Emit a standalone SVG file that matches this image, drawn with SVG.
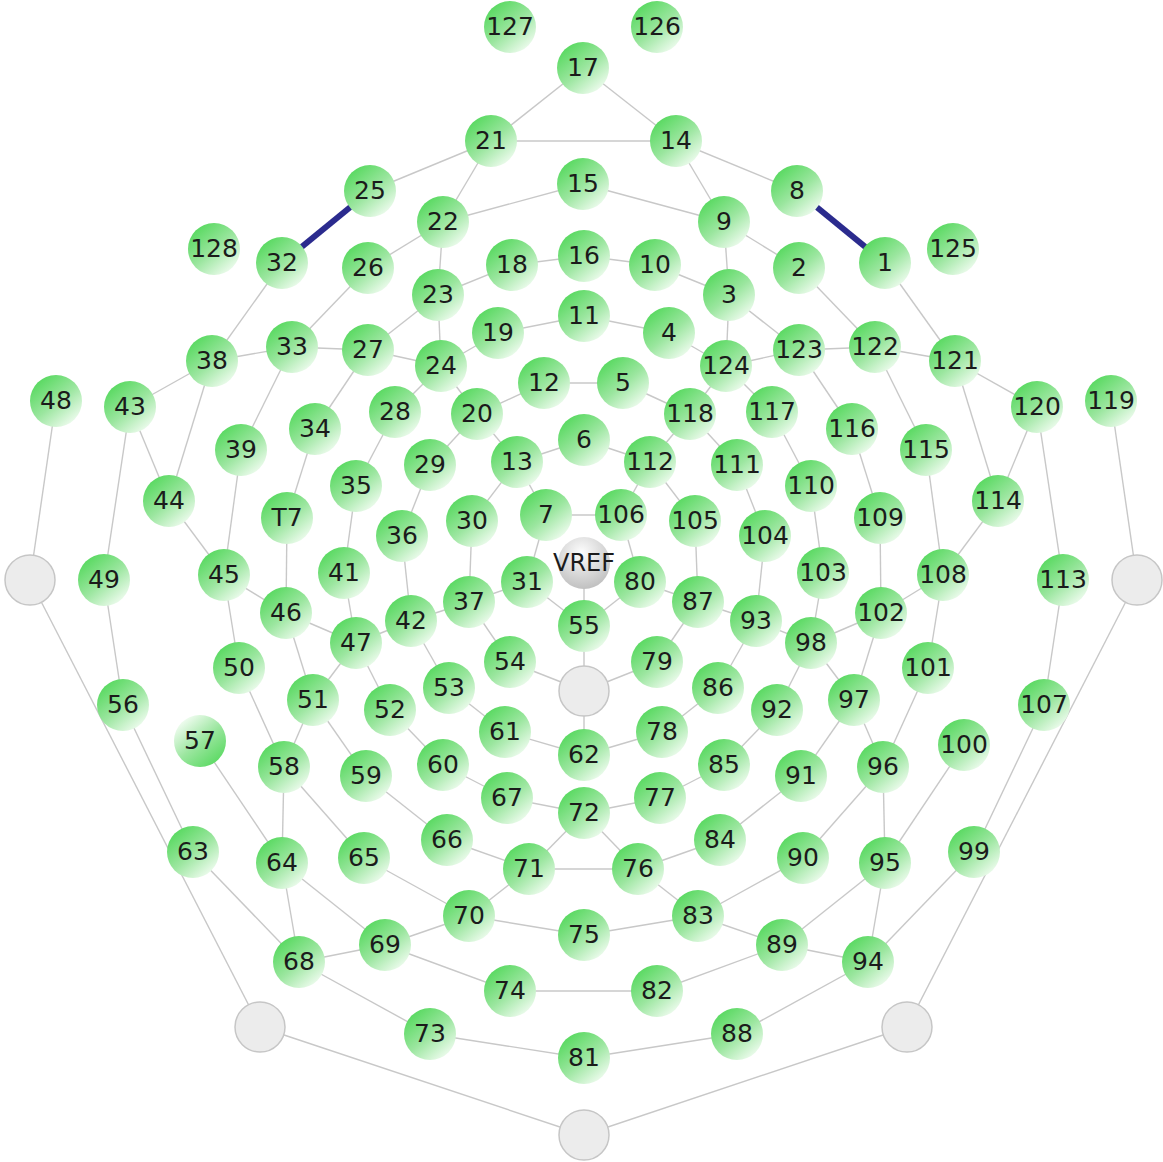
<svg xmlns="http://www.w3.org/2000/svg" width="1163" height="1162" viewBox="0 0 1163 1162">
<defs>
<linearGradient id="gg" x1="0.15" y1="0.1" x2="0.85" y2="0.95">
<stop offset="0" stop-color="#58d960"/>
<stop offset="0.5" stop-color="#9be69f"/>
<stop offset="1" stop-color="#f3fdf3"/>
</linearGradient>
<linearGradient id="gr" x1="0.15" y1="0.1" x2="0.85" y2="0.95">
<stop offset="0" stop-color="#f3fdf3"/>
<stop offset="0.5" stop-color="#9be69f"/>
<stop offset="1" stop-color="#58d960"/>
</linearGradient>
<radialGradient id="gv" cx="0.45" cy="0.3" r="0.75">
<stop offset="0" stop-color="#fdfdfd"/>
<stop offset="1" stop-color="#bcbcbc"/>
</radialGradient>
<style>
.edges line{stroke:#c8c8c8;stroke-width:1.4}
.hl line{stroke:#2b2b8e;stroke-width:6}
.node circle{fill:url(#gg)}
.node.rev circle{fill:url(#gr)}
.node.vref circle{fill:url(#gv)}
.gray circle{fill:#ececec;stroke:#c6c6c6;stroke-width:1.5}
text{font-family:"DejaVu Sans","Verdana",sans-serif;font-size:25px;fill:#1b1b1b;text-anchor:middle}
.vref text{font-size:24px}
</style>
</defs>
<rect width="1163" height="1162" fill="#ffffff"/>
<g id="connectors">
<g class="edges">
<line x1="583" y1="68" x2="491" y2="141"/>
<line x1="583" y1="68" x2="676" y2="141"/>
<line x1="491" y1="141" x2="676" y2="141"/>
<line x1="491" y1="141" x2="370" y2="191"/>
<line x1="491" y1="141" x2="443" y2="222"/>
<line x1="676" y1="141" x2="797" y2="191"/>
<line x1="676" y1="141" x2="724" y2="222"/>
<line x1="443" y1="222" x2="583" y2="184"/>
<line x1="583" y1="184" x2="724" y2="222"/>
<line x1="443" y1="222" x2="368" y2="268"/>
<line x1="724" y1="222" x2="799" y2="268"/>
<line x1="443" y1="222" x2="438" y2="295"/>
<line x1="724" y1="222" x2="729" y2="295"/>
<line x1="512" y1="265" x2="584" y2="256"/>
<line x1="584" y1="256" x2="655" y2="265"/>
<line x1="438" y1="295" x2="512" y2="265"/>
<line x1="729" y1="295" x2="655" y2="265"/>
<line x1="438" y1="295" x2="368" y2="350"/>
<line x1="729" y1="295" x2="799" y2="350"/>
<line x1="438" y1="295" x2="441" y2="366"/>
<line x1="729" y1="295" x2="726" y2="366"/>
<line x1="498" y1="333" x2="584" y2="316"/>
<line x1="584" y1="316" x2="669" y2="333"/>
<line x1="441" y1="366" x2="498" y2="333"/>
<line x1="726" y1="366" x2="669" y2="333"/>
<line x1="368" y1="350" x2="441" y2="366"/>
<line x1="799" y1="350" x2="726" y2="366"/>
<line x1="544" y1="383" x2="623" y2="383"/>
<line x1="544" y1="383" x2="477" y2="414"/>
<line x1="623" y1="383" x2="690" y2="414"/>
<line x1="441" y1="366" x2="477" y2="414"/>
<line x1="726" y1="366" x2="690" y2="414"/>
<line x1="441" y1="366" x2="395" y2="412"/>
<line x1="726" y1="366" x2="772" y2="412"/>
<line x1="368" y1="268" x2="292" y2="347"/>
<line x1="799" y1="268" x2="875" y2="347"/>
<line x1="282" y1="263" x2="212" y2="361"/>
<line x1="885" y1="263" x2="955" y2="361"/>
<line x1="212" y1="361" x2="292" y2="347"/>
<line x1="955" y1="361" x2="875" y2="347"/>
<line x1="292" y1="347" x2="368" y2="350"/>
<line x1="875" y1="347" x2="799" y2="350"/>
<line x1="212" y1="361" x2="130" y2="407"/>
<line x1="955" y1="361" x2="1037" y2="407"/>
<line x1="292" y1="347" x2="241" y2="450"/>
<line x1="875" y1="347" x2="926" y2="450"/>
<line x1="368" y1="350" x2="315" y2="429"/>
<line x1="799" y1="350" x2="852" y2="429"/>
<line x1="212" y1="361" x2="169" y2="501"/>
<line x1="955" y1="361" x2="998" y2="501"/>
<line x1="130" y1="407" x2="169" y2="501"/>
<line x1="1037" y1="407" x2="998" y2="501"/>
<line x1="130" y1="407" x2="104" y2="580"/>
<line x1="1037" y1="407" x2="1063" y2="580"/>
<line x1="56" y1="401" x2="30" y2="580"/>
<line x1="1111" y1="401" x2="1137" y2="580"/>
<line x1="241" y1="450" x2="224" y2="575"/>
<line x1="926" y1="450" x2="943" y2="575"/>
<line x1="169" y1="501" x2="224" y2="575"/>
<line x1="998" y1="501" x2="943" y2="575"/>
<line x1="315" y1="429" x2="287" y2="518"/>
<line x1="852" y1="429" x2="880" y2="518"/>
<line x1="395" y1="412" x2="356" y2="486"/>
<line x1="772" y1="412" x2="811" y2="486"/>
<line x1="356" y1="486" x2="344" y2="573"/>
<line x1="811" y1="486" x2="823" y2="573"/>
<line x1="287" y1="518" x2="286" y2="613"/>
<line x1="880" y1="518" x2="881" y2="613"/>
<line x1="224" y1="575" x2="286" y2="613"/>
<line x1="943" y1="575" x2="881" y2="613"/>
<line x1="286" y1="613" x2="356" y2="643"/>
<line x1="881" y1="613" x2="811" y2="643"/>
<line x1="344" y1="573" x2="356" y2="643"/>
<line x1="823" y1="573" x2="811" y2="643"/>
<line x1="356" y1="643" x2="411" y2="621"/>
<line x1="811" y1="643" x2="756" y2="621"/>
<line x1="224" y1="575" x2="239" y2="668"/>
<line x1="943" y1="575" x2="928" y2="668"/>
<line x1="286" y1="613" x2="313" y2="700"/>
<line x1="881" y1="613" x2="854" y2="700"/>
<line x1="356" y1="643" x2="313" y2="700"/>
<line x1="811" y1="643" x2="854" y2="700"/>
<line x1="356" y1="643" x2="390" y2="710"/>
<line x1="811" y1="643" x2="777" y2="710"/>
<line x1="104" y1="580" x2="123" y2="705"/>
<line x1="1063" y1="580" x2="1044" y2="705"/>
<line x1="30" y1="580" x2="260" y2="1027"/>
<line x1="1137" y1="580" x2="907" y2="1027"/>
<line x1="239" y1="668" x2="284" y2="767"/>
<line x1="928" y1="668" x2="883" y2="767"/>
<line x1="313" y1="700" x2="284" y2="767"/>
<line x1="854" y1="700" x2="883" y2="767"/>
<line x1="313" y1="700" x2="366" y2="776"/>
<line x1="854" y1="700" x2="801" y2="776"/>
<line x1="390" y1="710" x2="443" y2="765"/>
<line x1="777" y1="710" x2="724" y2="765"/>
<line x1="449" y1="688" x2="505" y2="732"/>
<line x1="718" y1="688" x2="662" y2="732"/>
<line x1="411" y1="621" x2="449" y2="688"/>
<line x1="756" y1="621" x2="718" y2="688"/>
<line x1="284" y1="767" x2="282" y2="863"/>
<line x1="883" y1="767" x2="885" y2="863"/>
<line x1="284" y1="767" x2="364" y2="858"/>
<line x1="883" y1="767" x2="803" y2="858"/>
<line x1="366" y1="776" x2="447" y2="840"/>
<line x1="801" y1="776" x2="720" y2="840"/>
<line x1="443" y1="765" x2="507" y2="798"/>
<line x1="724" y1="765" x2="660" y2="798"/>
<line x1="505" y1="732" x2="584" y2="755"/>
<line x1="662" y1="732" x2="584" y2="755"/>
<line x1="507" y1="798" x2="584" y2="813"/>
<line x1="660" y1="798" x2="584" y2="813"/>
<line x1="200" y1="741" x2="282" y2="863"/>
<line x1="964" y1="745" x2="885" y2="863"/>
<line x1="123" y1="705" x2="193" y2="852"/>
<line x1="1044" y1="705" x2="974" y2="852"/>
<line x1="193" y1="852" x2="299" y2="962"/>
<line x1="974" y1="852" x2="868" y2="962"/>
<line x1="282" y1="863" x2="299" y2="962"/>
<line x1="885" y1="863" x2="868" y2="962"/>
<line x1="282" y1="863" x2="385" y2="945"/>
<line x1="885" y1="863" x2="782" y2="945"/>
<line x1="299" y1="962" x2="385" y2="945"/>
<line x1="868" y1="962" x2="782" y2="945"/>
<line x1="299" y1="962" x2="430" y2="1034"/>
<line x1="868" y1="962" x2="737" y2="1034"/>
<line x1="364" y1="858" x2="469" y2="916"/>
<line x1="803" y1="858" x2="698" y2="916"/>
<line x1="447" y1="840" x2="529" y2="869"/>
<line x1="720" y1="840" x2="638" y2="869"/>
<line x1="584" y1="813" x2="529" y2="869"/>
<line x1="584" y1="813" x2="638" y2="869"/>
<line x1="529" y1="869" x2="638" y2="869"/>
<line x1="529" y1="869" x2="469" y2="916"/>
<line x1="638" y1="869" x2="698" y2="916"/>
<line x1="385" y1="945" x2="469" y2="916"/>
<line x1="782" y1="945" x2="698" y2="916"/>
<line x1="469" y1="916" x2="584" y2="935"/>
<line x1="698" y1="916" x2="584" y2="935"/>
<line x1="385" y1="945" x2="510" y2="991"/>
<line x1="782" y1="945" x2="657" y2="991"/>
<line x1="510" y1="991" x2="657" y2="991"/>
<line x1="430" y1="1034" x2="584" y2="1058"/>
<line x1="737" y1="1034" x2="584" y2="1058"/>
<line x1="260" y1="1027" x2="584" y2="1135"/>
<line x1="907" y1="1027" x2="584" y2="1135"/>
<line x1="510" y1="662" x2="584" y2="691"/>
<line x1="657" y1="662" x2="584" y2="691"/>
<line x1="584" y1="626" x2="584" y2="691"/>
<line x1="584" y1="691" x2="584" y2="755"/>
<line x1="469" y1="602" x2="510" y2="662"/>
<line x1="698" y1="602" x2="657" y2="662"/>
<line x1="527" y1="582" x2="584" y2="626"/>
<line x1="640" y1="582" x2="584" y2="626"/>
<line x1="584" y1="563" x2="584" y2="626"/>
<line x1="546" y1="515" x2="527" y2="582"/>
<line x1="621" y1="515" x2="640" y2="582"/>
<line x1="546" y1="515" x2="621" y2="515"/>
<line x1="517" y1="462" x2="546" y2="515"/>
<line x1="650" y1="462" x2="621" y2="515"/>
<line x1="517" y1="462" x2="472" y2="521"/>
<line x1="650" y1="462" x2="695" y2="521"/>
<line x1="472" y1="521" x2="469" y2="602"/>
<line x1="695" y1="521" x2="698" y2="602"/>
<line x1="469" y1="602" x2="527" y2="582"/>
<line x1="698" y1="602" x2="640" y2="582"/>
<line x1="411" y1="621" x2="469" y2="602"/>
<line x1="756" y1="621" x2="698" y2="602"/>
<line x1="402" y1="536" x2="411" y2="621"/>
<line x1="765" y1="536" x2="756" y2="621"/>
<line x1="430" y1="465" x2="402" y2="536"/>
<line x1="737" y1="465" x2="765" y2="536"/>
<line x1="477" y1="414" x2="430" y2="465"/>
<line x1="690" y1="414" x2="737" y2="465"/>
<line x1="477" y1="414" x2="517" y2="462"/>
<line x1="690" y1="414" x2="650" y2="462"/>
<line x1="517" y1="462" x2="584" y2="440"/>
<line x1="584" y1="440" x2="650" y2="462"/>
</g>
<g class="hl">
<line x1="370" y1="191" x2="282" y2="263"/>
<line x1="797" y1="191" x2="885" y2="263"/>
</g>
</g>
<g id="nodes">
<g id="n-127" class="node"><circle cx="510" cy="27" r="26"/><text x="510" y="35">127</text></g>
<g id="n-126" class="node"><circle cx="657" cy="27" r="26"/><text x="657" y="35">126</text></g>
<g id="n-17" class="node"><circle cx="583" cy="68" r="26"/><text x="583" y="76">17</text></g>
<g id="n-21" class="node"><circle cx="491" cy="141" r="26"/><text x="491" y="149">21</text></g>
<g id="n-14" class="node"><circle cx="676" cy="141" r="26"/><text x="676" y="149">14</text></g>
<g id="n-25" class="node"><circle cx="370" cy="191" r="26"/><text x="370" y="199">25</text></g>
<g id="n-8" class="node"><circle cx="797" cy="191" r="26"/><text x="797" y="199">8</text></g>
<g id="n-15" class="node"><circle cx="583" cy="184" r="26"/><text x="583" y="192">15</text></g>
<g id="n-22" class="node"><circle cx="443" cy="222" r="26"/><text x="443" y="230">22</text></g>
<g id="n-9" class="node"><circle cx="724" cy="222" r="26"/><text x="724" y="230">9</text></g>
<g id="n-128" class="node"><circle cx="214" cy="249" r="26"/><text x="214" y="257">128</text></g>
<g id="n-125" class="node"><circle cx="953" cy="249" r="26"/><text x="953" y="257">125</text></g>
<g id="n-32" class="node"><circle cx="282" cy="263" r="26"/><text x="282" y="271">32</text></g>
<g id="n-1" class="node"><circle cx="885" cy="263" r="26"/><text x="885" y="271">1</text></g>
<g id="n-26" class="node"><circle cx="368" cy="268" r="26"/><text x="368" y="276">26</text></g>
<g id="n-2" class="node"><circle cx="799" cy="268" r="26"/><text x="799" y="276">2</text></g>
<g id="n-18" class="node"><circle cx="512" cy="265" r="26"/><text x="512" y="273">18</text></g>
<g id="n-10" class="node"><circle cx="655" cy="265" r="26"/><text x="655" y="273">10</text></g>
<g id="n-16" class="node"><circle cx="584" cy="256" r="26"/><text x="584" y="264">16</text></g>
<g id="n-23" class="node"><circle cx="438" cy="295" r="26"/><text x="438" y="303">23</text></g>
<g id="n-3" class="node"><circle cx="729" cy="295" r="26"/><text x="729" y="303">3</text></g>
<g id="n-11" class="node"><circle cx="584" cy="316" r="26"/><text x="584" y="324">11</text></g>
<g id="n-19" class="node"><circle cx="498" cy="333" r="26"/><text x="498" y="341">19</text></g>
<g id="n-4" class="node"><circle cx="669" cy="333" r="26"/><text x="669" y="341">4</text></g>
<g id="n-33" class="node"><circle cx="292" cy="347" r="26"/><text x="292" y="355">33</text></g>
<g id="n-122" class="node"><circle cx="875" cy="347" r="26"/><text x="875" y="355">122</text></g>
<g id="n-27" class="node"><circle cx="368" cy="350" r="26"/><text x="368" y="358">27</text></g>
<g id="n-123" class="node"><circle cx="799" cy="350" r="26"/><text x="799" y="358">123</text></g>
<g id="n-38" class="node"><circle cx="212" cy="361" r="26"/><text x="212" y="369">38</text></g>
<g id="n-121" class="node"><circle cx="955" cy="361" r="26"/><text x="955" y="369">121</text></g>
<g id="n-24" class="node"><circle cx="441" cy="366" r="26"/><text x="441" y="374">24</text></g>
<g id="n-124" class="node"><circle cx="726" cy="366" r="26"/><text x="726" y="374">124</text></g>
<g id="n-12" class="node"><circle cx="544" cy="383" r="26"/><text x="544" y="391">12</text></g>
<g id="n-5" class="node"><circle cx="623" cy="383" r="26"/><text x="623" y="391">5</text></g>
<g id="n-48" class="node"><circle cx="56" cy="401" r="26"/><text x="56" y="409">48</text></g>
<g id="n-119" class="node"><circle cx="1111" cy="401" r="26"/><text x="1111" y="409">119</text></g>
<g id="n-43" class="node"><circle cx="130" cy="407" r="26"/><text x="130" y="415">43</text></g>
<g id="n-120" class="node"><circle cx="1037" cy="407" r="26"/><text x="1037" y="415">120</text></g>
<g id="n-28" class="node"><circle cx="395" cy="412" r="26"/><text x="395" y="420">28</text></g>
<g id="n-117" class="node"><circle cx="772" cy="412" r="26"/><text x="772" y="420">117</text></g>
<g id="n-20" class="node"><circle cx="477" cy="414" r="26"/><text x="477" y="422">20</text></g>
<g id="n-118" class="node"><circle cx="690" cy="414" r="26"/><text x="690" y="422">118</text></g>
<g id="n-6" class="node"><circle cx="584" cy="440" r="26"/><text x="584" y="448">6</text></g>
<g id="n-34" class="node"><circle cx="315" cy="429" r="26"/><text x="315" y="437">34</text></g>
<g id="n-116" class="node"><circle cx="852" cy="429" r="26"/><text x="852" y="437">116</text></g>
<g id="n-39" class="node"><circle cx="241" cy="450" r="26"/><text x="241" y="458">39</text></g>
<g id="n-115" class="node"><circle cx="926" cy="450" r="26"/><text x="926" y="458">115</text></g>
<g id="n-29" class="node"><circle cx="430" cy="465" r="26"/><text x="430" y="473">29</text></g>
<g id="n-111" class="node"><circle cx="737" cy="465" r="26"/><text x="737" y="473">111</text></g>
<g id="n-13" class="node"><circle cx="517" cy="462" r="26"/><text x="517" y="470">13</text></g>
<g id="n-112" class="node"><circle cx="650" cy="462" r="26"/><text x="650" y="470">112</text></g>
<g id="n-35" class="node"><circle cx="356" cy="486" r="26"/><text x="356" y="494">35</text></g>
<g id="n-110" class="node"><circle cx="811" cy="486" r="26"/><text x="811" y="494">110</text></g>
<g id="n-44" class="node"><circle cx="169" cy="501" r="26"/><text x="169" y="509">44</text></g>
<g id="n-114" class="node"><circle cx="998" cy="501" r="26"/><text x="998" y="509">114</text></g>
<g id="n-T7" class="node"><circle cx="287" cy="518" r="26"/><text x="287" y="526">T7</text></g>
<g id="n-109" class="node"><circle cx="880" cy="518" r="26"/><text x="880" y="526">109</text></g>
<g id="n-30" class="node"><circle cx="472" cy="521" r="26"/><text x="472" y="529">30</text></g>
<g id="n-105" class="node"><circle cx="695" cy="521" r="26"/><text x="695" y="529">105</text></g>
<g id="n-7" class="node"><circle cx="546" cy="515" r="26"/><text x="546" y="523">7</text></g>
<g id="n-106" class="node"><circle cx="621" cy="515" r="26"/><text x="621" y="523">106</text></g>
<g id="n-36" class="node"><circle cx="402" cy="536" r="26"/><text x="402" y="544">36</text></g>
<g id="n-104" class="node"><circle cx="765" cy="536" r="26"/><text x="765" y="544">104</text></g>
<g id="n-45" class="node"><circle cx="224" cy="575" r="26"/><text x="224" y="583">45</text></g>
<g id="n-108" class="node"><circle cx="943" cy="575" r="26"/><text x="943" y="583">108</text></g>
<g id="n-41" class="node"><circle cx="344" cy="573" r="26"/><text x="344" y="581">41</text></g>
<g id="n-103" class="node"><circle cx="823" cy="573" r="26"/><text x="823" y="581">103</text></g>
<g id="n-31" class="node"><circle cx="527" cy="582" r="26"/><text x="527" y="590">31</text></g>
<g id="n-80" class="node"><circle cx="640" cy="582" r="26"/><text x="640" y="590">80</text></g>
<g id="n-VREF" class="node vref"><circle cx="584" cy="563" r="26"/><text x="584" y="571">VREF</text></g>
<g id="n-gL" class="gray"><circle cx="30" cy="580" r="25"/></g>
<g id="n-gR" class="gray"><circle cx="1137" cy="580" r="25"/></g>
<g id="n-49" class="node"><circle cx="104" cy="580" r="26"/><text x="104" y="588">49</text></g>
<g id="n-113" class="node"><circle cx="1063" cy="580" r="26"/><text x="1063" y="588">113</text></g>
<g id="n-37" class="node"><circle cx="469" cy="602" r="26"/><text x="469" y="610">37</text></g>
<g id="n-87" class="node"><circle cx="698" cy="602" r="26"/><text x="698" y="610">87</text></g>
<g id="n-46" class="node"><circle cx="286" cy="613" r="26"/><text x="286" y="621">46</text></g>
<g id="n-102" class="node"><circle cx="881" cy="613" r="26"/><text x="881" y="621">102</text></g>
<g id="n-42" class="node"><circle cx="411" cy="621" r="26"/><text x="411" y="629">42</text></g>
<g id="n-93" class="node"><circle cx="756" cy="621" r="26"/><text x="756" y="629">93</text></g>
<g id="n-55" class="node"><circle cx="584" cy="626" r="26"/><text x="584" y="634">55</text></g>
<g id="n-47" class="node"><circle cx="356" cy="643" r="26"/><text x="356" y="651">47</text></g>
<g id="n-98" class="node"><circle cx="811" cy="643" r="26"/><text x="811" y="651">98</text></g>
<g id="n-54" class="node"><circle cx="510" cy="662" r="26"/><text x="510" y="670">54</text></g>
<g id="n-79" class="node"><circle cx="657" cy="662" r="26"/><text x="657" y="670">79</text></g>
<g id="n-50" class="node"><circle cx="239" cy="668" r="26"/><text x="239" y="676">50</text></g>
<g id="n-101" class="node"><circle cx="928" cy="668" r="26"/><text x="928" y="676">101</text></g>
<g id="n-gC" class="gray"><circle cx="584" cy="691" r="25"/></g>
<g id="n-53" class="node"><circle cx="449" cy="688" r="26"/><text x="449" y="696">53</text></g>
<g id="n-86" class="node"><circle cx="718" cy="688" r="26"/><text x="718" y="696">86</text></g>
<g id="n-51" class="node"><circle cx="313" cy="700" r="26"/><text x="313" y="708">51</text></g>
<g id="n-97" class="node"><circle cx="854" cy="700" r="26"/><text x="854" y="708">97</text></g>
<g id="n-56" class="node"><circle cx="123" cy="705" r="26"/><text x="123" y="713">56</text></g>
<g id="n-107" class="node"><circle cx="1044" cy="705" r="26"/><text x="1044" y="713">107</text></g>
<g id="n-52" class="node"><circle cx="390" cy="710" r="26"/><text x="390" y="718">52</text></g>
<g id="n-92" class="node"><circle cx="777" cy="710" r="26"/><text x="777" y="718">92</text></g>
<g id="n-61" class="node"><circle cx="505" cy="732" r="26"/><text x="505" y="740">61</text></g>
<g id="n-78" class="node"><circle cx="662" cy="732" r="26"/><text x="662" y="740">78</text></g>
<g id="n-57" class="node rev"><circle cx="200" cy="741" r="26"/><text x="200" y="749">57</text></g>
<g id="n-100" class="node"><circle cx="964" cy="745" r="26"/><text x="964" y="753">100</text></g>
<g id="n-62" class="node"><circle cx="584" cy="755" r="26"/><text x="584" y="763">62</text></g>
<g id="n-60" class="node"><circle cx="443" cy="765" r="26"/><text x="443" y="773">60</text></g>
<g id="n-85" class="node"><circle cx="724" cy="765" r="26"/><text x="724" y="773">85</text></g>
<g id="n-58" class="node"><circle cx="284" cy="767" r="26"/><text x="284" y="775">58</text></g>
<g id="n-96" class="node"><circle cx="883" cy="767" r="26"/><text x="883" y="775">96</text></g>
<g id="n-59" class="node"><circle cx="366" cy="776" r="26"/><text x="366" y="784">59</text></g>
<g id="n-91" class="node"><circle cx="801" cy="776" r="26"/><text x="801" y="784">91</text></g>
<g id="n-67" class="node"><circle cx="507" cy="798" r="26"/><text x="507" y="806">67</text></g>
<g id="n-77" class="node"><circle cx="660" cy="798" r="26"/><text x="660" y="806">77</text></g>
<g id="n-72" class="node"><circle cx="584" cy="813" r="26"/><text x="584" y="821">72</text></g>
<g id="n-66" class="node"><circle cx="447" cy="840" r="26"/><text x="447" y="848">66</text></g>
<g id="n-84" class="node"><circle cx="720" cy="840" r="26"/><text x="720" y="848">84</text></g>
<g id="n-63" class="node"><circle cx="193" cy="852" r="26"/><text x="193" y="860">63</text></g>
<g id="n-99" class="node"><circle cx="974" cy="852" r="26"/><text x="974" y="860">99</text></g>
<g id="n-65" class="node"><circle cx="364" cy="858" r="26"/><text x="364" y="866">65</text></g>
<g id="n-90" class="node"><circle cx="803" cy="858" r="26"/><text x="803" y="866">90</text></g>
<g id="n-64" class="node"><circle cx="282" cy="863" r="26"/><text x="282" y="871">64</text></g>
<g id="n-95" class="node"><circle cx="885" cy="863" r="26"/><text x="885" y="871">95</text></g>
<g id="n-71" class="node"><circle cx="529" cy="869" r="26"/><text x="529" y="877">71</text></g>
<g id="n-76" class="node"><circle cx="638" cy="869" r="26"/><text x="638" y="877">76</text></g>
<g id="n-70" class="node"><circle cx="469" cy="916" r="26"/><text x="469" y="924">70</text></g>
<g id="n-83" class="node"><circle cx="698" cy="916" r="26"/><text x="698" y="924">83</text></g>
<g id="n-75" class="node"><circle cx="584" cy="935" r="26"/><text x="584" y="943">75</text></g>
<g id="n-69" class="node"><circle cx="385" cy="945" r="26"/><text x="385" y="953">69</text></g>
<g id="n-89" class="node"><circle cx="782" cy="945" r="26"/><text x="782" y="953">89</text></g>
<g id="n-68" class="node"><circle cx="299" cy="962" r="26"/><text x="299" y="970">68</text></g>
<g id="n-94" class="node"><circle cx="868" cy="962" r="26"/><text x="868" y="970">94</text></g>
<g id="n-74" class="node"><circle cx="510" cy="991" r="26"/><text x="510" y="999">74</text></g>
<g id="n-82" class="node"><circle cx="657" cy="991" r="26"/><text x="657" y="999">82</text></g>
<g id="n-gBL" class="gray"><circle cx="260" cy="1027" r="25"/></g>
<g id="n-gBR" class="gray"><circle cx="907" cy="1027" r="25"/></g>
<g id="n-73" class="node"><circle cx="430" cy="1034" r="26"/><text x="430" y="1042">73</text></g>
<g id="n-88" class="node"><circle cx="737" cy="1034" r="26"/><text x="737" y="1042">88</text></g>
<g id="n-81" class="node"><circle cx="584" cy="1058" r="26"/><text x="584" y="1066">81</text></g>
<g id="n-gB" class="gray"><circle cx="584" cy="1135" r="25"/></g>
</g>
</svg>
